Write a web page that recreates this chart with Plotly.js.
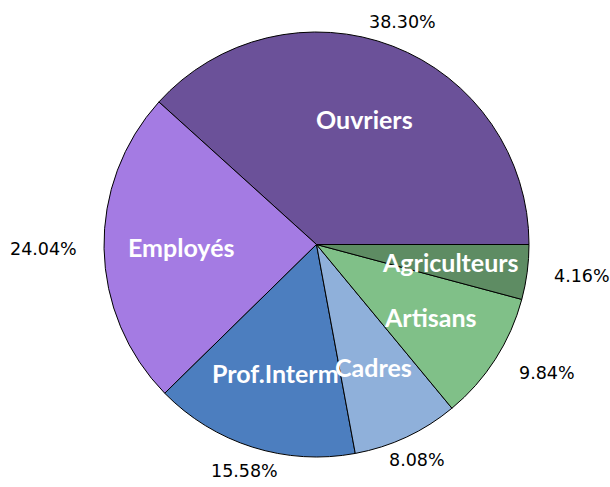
<!DOCTYPE html>
<html>
<head>
<meta charset="utf-8">
<script src="https://cdn.plot.ly/plotly-3.0.1.min.js"></script>
<style>html,body{margin:0;padding:0;background:#fff;}#chart{width:610px;height:487px;}</style>
</head>
<body>
<div id="chart"></div>
<script>
// Data
var categories = ["Ouvriers", "Employés", "Prof.Interm", "Cadres", "Artisans", "Agriculteurs"];
var shares = [38.30, 24.04, 15.58, 8.08, 9.84, 4.16];
var percentLabels = ["38.30%", "24.04%", "15.58%", "8.08%", "9.84%", "4.16%"];
var colors = ["#6b5199", "#a47be3", "#4c7ebf", "#8fb0da", "#80c088", "#5e8c63"];

// Geometry of the pie (pixels)
var W = 610, H = 487;
var cx = 316.5, cy = 244.5, R = 212.5;
var labelDist = 0.635, pctDist = 1.12;

var total = shares.reduce(function (a, b) { return a + b; }, 0);
var annotations = [];
var cum = 0;
shares.forEach(function (v, i) {
  var mid = (cum + v / 2) / total * 2 * Math.PI; // CCW from east
  cum += v;
  var c = Math.cos(mid), s = Math.sin(mid);
  annotations.push({
    xref: "paper", yref: "paper",
    x: (cx + labelDist * R * c) / W,
    y: (H - cy + labelDist * R * s) / H,
    text: "<b>" + categories[i] + "</b>",
    showarrow: false, xanchor: "center", yanchor: "middle",
    font: {family: "Lato, 'Open Sans', sans-serif", size: 25, color: "#ffffff"}
  });
  annotations.push({
    xref: "paper", yref: "paper",
    x: (cx + pctDist * R * c) / W,
    y: (H - cy + pctDist * R * s) / H,
    text: percentLabels[i],
    showarrow: false,
    xanchor: c > 0.5 ? "left" : (c < -0.5 ? "right" : "center"),
    yanchor: "middle",
    font: {family: "'DejaVu Sans', sans-serif", size: 17.5, color: "#000000"}
  });
});

// Plotly places the END of the first slice at `rotation` when counterclockwise;
// shift so that the first slice STARTS at 3 o'clock.
var rotation = 90 - shares[0] / total * 360;

var trace = {
  type: "pie",
  labels: categories,
  values: shares,
  sort: false,
  direction: "counterclockwise",
  rotation: rotation,
  textinfo: "none",
  hoverinfo: "label+percent",
  marker: {colors: colors, line: {color: "#000000", width: 1}},
  domain: {x: [(cx - R) / W, (cx + R) / W], y: [(H - cy - R) / H, (H - cy + R) / H]},
  showlegend: false
};

var layout = {
  width: W, height: H,
  margin: {l: 0, r: 0, t: 0, b: 0},
  paper_bgcolor: "#ffffff",
  showlegend: false,
  annotations: annotations
};

Plotly.newPlot("chart", [trace], layout, {displayModeBar: false, staticPlot: true});
</script>
</body>
</html>
